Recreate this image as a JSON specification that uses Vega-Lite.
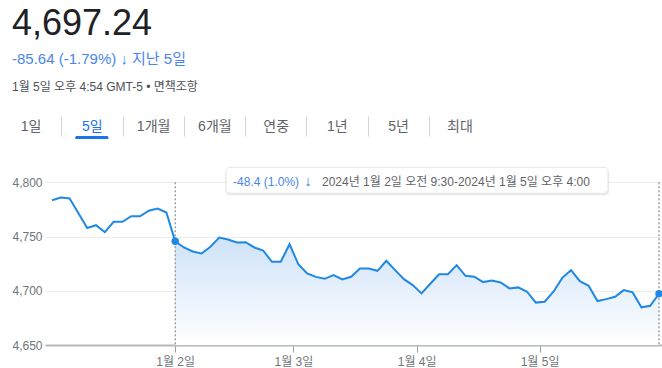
{
  "$schema": "https://vega.github.io/schema/vega-lite/v6.json",
  "background": "white",
  "padding": {"left": 0, "top": 6, "right": 0, "bottom": 2},
  "config": {
    "font": "Liberation Sans, Noto Sans CJK KR",
    "view": {"stroke": null}
  },
  "title": {
    "text": "4,697.24",
    "subtitle": "-85.64 (-1.79%) ↓ 지난 5일",
    "anchor": "start",
    "frame": "group",
    "dx": -33,
    "fontSize": 36,
    "fontWeight": "normal",
    "color": "#202124",
    "subtitleFontSize": 15,
    "subtitleColor": "#4a86e8",
    "subtitlePadding": 9,
    "offset": 12.5
  },
  "datasets": {
    "prices": [
      {"i": 0, "price": 4783.4}, {"i": 1, "price": 4786.0}, {"i": 2, "price": 4785.0}, {"i": 3, "price": 4771.5},
      {"i": 4, "price": 4757.8}, {"i": 5, "price": 4760.4}, {"i": 6, "price": 4754.0}, {"i": 7, "price": 4763.5},
      {"i": 8, "price": 4763.5}, {"i": 9, "price": 4768.7}, {"i": 10, "price": 4768.7}, {"i": 11, "price": 4773.8},
      {"i": 12, "price": 4775.8}, {"i": 13, "price": 4772.1}, {"i": 14, "price": 4745.6}, {"i": 15, "price": 4739.9},
      {"i": 16, "price": 4736.2}, {"i": 17, "price": 4734.4}, {"i": 18, "price": 4740.5}, {"i": 19, "price": 4749.1},
      {"i": 20, "price": 4747.3}, {"i": 21, "price": 4744.5}, {"i": 22, "price": 4744.8}, {"i": 23, "price": 4739.9},
      {"i": 24, "price": 4737.1}, {"i": 25, "price": 4726.7}, {"i": 26, "price": 4726.7}, {"i": 27, "price": 4742.9},
      {"i": 28, "price": 4724.4}, {"i": 29, "price": 4716.0}, {"i": 30, "price": 4712.8}, {"i": 31, "price": 4711.0},
      {"i": 32, "price": 4714.4}, {"i": 33, "price": 4710.4}, {"i": 34, "price": 4712.9}, {"i": 35, "price": 4720.6},
      {"i": 36, "price": 4720.6}, {"i": 37, "price": 4718.4}, {"i": 38, "price": 4727.6}, {"i": 39, "price": 4719.0},
      {"i": 40, "price": 4710.7}, {"i": 41, "price": 4705.2}, {"i": 42, "price": 4697.6}, {"i": 43, "price": 4706.5},
      {"i": 44, "price": 4715.2}, {"i": 45, "price": 4715.3}, {"i": 46, "price": 4723.6}, {"i": 47, "price": 4713.8},
      {"i": 48, "price": 4712.9}, {"i": 49, "price": 4708.0}, {"i": 50, "price": 4709.5}, {"i": 51, "price": 4707.7},
      {"i": 52, "price": 4702.2}, {"i": 53, "price": 4703.1}, {"i": 54, "price": 4699.1}, {"i": 55, "price": 4689.1},
      {"i": 56, "price": 4689.9}, {"i": 57, "price": 4699.1}, {"i": 58, "price": 4711.9}, {"i": 59, "price": 4719.0},
      {"i": 60, "price": 4708.9}, {"i": 61, "price": 4704.6}, {"i": 62, "price": 4690.5}, {"i": 63, "price": 4692.3},
      {"i": 64, "price": 4694.5}, {"i": 65, "price": 4700.6}, {"i": 66, "price": 4698.5}, {"i": 67, "price": 4684.7},
      {"i": 68, "price": 4686.2}, {"i": 69, "price": 4697.24}
    ],
    "tabs": [
      {"tab": "1일"}, {"tab": "5일"}, {"tab": "1개월"}, {"tab": "6개월"},
      {"tab": "연중"}, {"tab": "1년"}, {"tab": "5년"}, {"tab": "최대"}
    ],
    "note": [
      {"change": "-48.4 (1.0%)", "arrow": "↓", "range": "2024년 1월 2일 오전 9:30-2024년 1월 5일 오후 4:00"}
    ]
  },
  "concat": [
    {
      "width": 490,
      "height": 3,
      "title": {
        "text": "1월 5일 오후 4:54 GMT-5 • 면책조항",
        "anchor": "start",
        "frame": "group",
        "dx": -33,
        "fontSize": 12,
        "fontWeight": "normal",
        "color": "#4d5156",
        "offset": 22
      },
      "data": {"name": "tabs"},
      "mark": {"type": "bar", "color": "#1a73e8", "cornerRadiusTopLeft": 3, "cornerRadiusTopRight": 3, "width": {"band": 0.54}},
      "encoding": {
        "x": {
          "field": "tab",
          "type": "nominal",
          "sort": null,
          "scale": {"paddingInner": 0, "paddingOuter": 0, "range": [-45, 445]},
          "axis": {
            "orient": "top",
            "title": null,
            "domain": false,
            "grid": false,
            "ticks": true,
            "tickOffset": -30.625,
            "labelOffset": 30.625,
            "tickSize": 20,
            "tickWidth": 1,
            "tickColor": "#d2d4d7",
            "tickOpacity": {"condition": {"test": "datum.value === '1일'", "value": 0}, "value": 1},
            "labelPadding": -10,
            "labelBaseline": "middle",
            "labelAngle": 0,
            "labelFontSize": 14,
            "labelColor": {"condition": {"test": "datum.value === '5일'", "value": "#1a73e8"}, "value": "#5f6368"}
          }
        },
        "opacity": {"condition": {"test": "datum.tab === '5일'", "value": 1}, "value": 0}
      }
    },
    {
      "width": 617,
      "height": 179,
      "layer": [
        {
          "data": {"name": "prices"},
          "transform": [{"filter": "datum.i >= 14"}],
          "mark": {
            "type": "area",
            "fill": {
              "gradient": "linear", "x1": 0, "y1": 0, "x2": 0, "y2": 1,
              "stops": [{"offset": 0, "color": "#cfe2f8"}, {"offset": 1, "color": "#ffffff"}]
            }
          },
          "encoding": {
            "x": {
              "field": "i",
              "type": "quantitative",
              "scale": {"domain": [-0.8, 69.34], "nice": false, "zero": false},
              "axis": {
                "title": null,
                "values": [14, 27.43, 41.45, 55.42],
                "labelExpr": "datum.value < 20 ? '1월 2일' : datum.value < 35 ? '1월 3일' : datum.value < 50 ? '1월 4일' : '1월 5일'",
                "grid": false,
                "domainColor": "#b8b8b8",
                "domainWidth": 2,
                "tickColor": "#9aa0a6",
                "tickSize": 7,
                "labelPadding": 4,
                "labelColor": "#70757a",
                "labelFontSize": 12,
                "labelFlush": false
              }
            },
            "y": {
              "field": "price",
              "type": "quantitative",
              "scale": {"domain": [4650, 4815], "nice": false, "zero": false},
              "axis": {
                "title": null,
                "values": [4650, 4700, 4750, 4800],
                "format": ",.0f",
                "ticks": false,
                "domain": false,
                "gridColor": "#ececec",
                "labelColor": "#70757a",
                "labelFontSize": 12,
                "labelPadding": 3,
                "minExtent": 42
              }
            },
            "y2": {"datum": 4650}
          }
        },
        {
          "data": {"name": "prices"},
          "transform": [{"filter": "datum.i == 14 || datum.i == 69"}],
          "mark": {"type": "rule", "color": "#70757a", "strokeDash": [2, 2], "strokeWidth": 1},
          "encoding": {
            "x": {"field": "i", "type": "quantitative"},
            "y": {"datum": 4800},
            "y2": {"datum": 4650}
          }
        },
        {
          "data": {"name": "prices"},
          "mark": {"type": "line", "color": "#1e88e5", "strokeWidth": 2},
          "encoding": {
            "x": {"field": "i", "type": "quantitative"},
            "y": {"field": "price", "type": "quantitative"}
          }
        },
        {
          "data": {"name": "prices"},
          "transform": [{"filter": "datum.i == 14 || datum.i == 69"}],
          "mark": {"type": "circle", "color": "#1e88e5", "size": 55, "opacity": 1},
          "encoding": {
            "x": {"field": "i", "type": "quantitative"},
            "y": {"field": "price", "type": "quantitative"}
          }
        },
        {
          "data": {"name": "note"},
          "mark": {"type": "rect", "fill": "#000000", "opacity": 0.08, "cornerRadius": 5},
          "encoding": {
            "x": {"datum": 19.7},
            "x2": {"datum": 63.35},
            "y": {"datum": 4812.3},
            "y2": {"datum": 4787.8}
          }
        },
        {
          "data": {"name": "note"},
          "mark": {"type": "rect", "fill": "#ffffff", "stroke": "#e6e6e6", "strokeWidth": 1, "cornerRadius": 4},
          "encoding": {
            "x": {"datum": 19.78},
            "x2": {"datum": 63.2},
            "y": {"datum": 4813.8},
            "y2": {"datum": 4789.9}
          }
        },
        {
          "data": {"name": "note"},
          "mark": {"type": "text", "align": "left", "baseline": "alphabetic", "fontSize": 12, "color": "#4a86e8"},
          "encoding": {
            "x": {"datum": 20.58},
            "y": {"datum": 4796.6},
            "text": {"field": "change"}
          }
        },
        {
          "data": {"name": "note"},
          "mark": {"type": "text", "align": "left", "baseline": "alphabetic", "fontSize": 14, "fontWeight": "bold", "color": "#1a73e8"},
          "encoding": {
            "x": {"datum": 28.7},
            "y": {"datum": 4796.6},
            "text": {"field": "arrow"}
          }
        },
        {
          "data": {"name": "note"},
          "mark": {"type": "text", "align": "left", "baseline": "alphabetic", "fontSize": 12, "color": "#5f6368"},
          "encoding": {
            "x": {"datum": 30.69},
            "y": {"datum": 4796.6},
            "text": {"field": "range"}
          }
        }
      ]
    }
  ],
  "columns": 1,
  "align": "none",
  "spacing": 27
}
